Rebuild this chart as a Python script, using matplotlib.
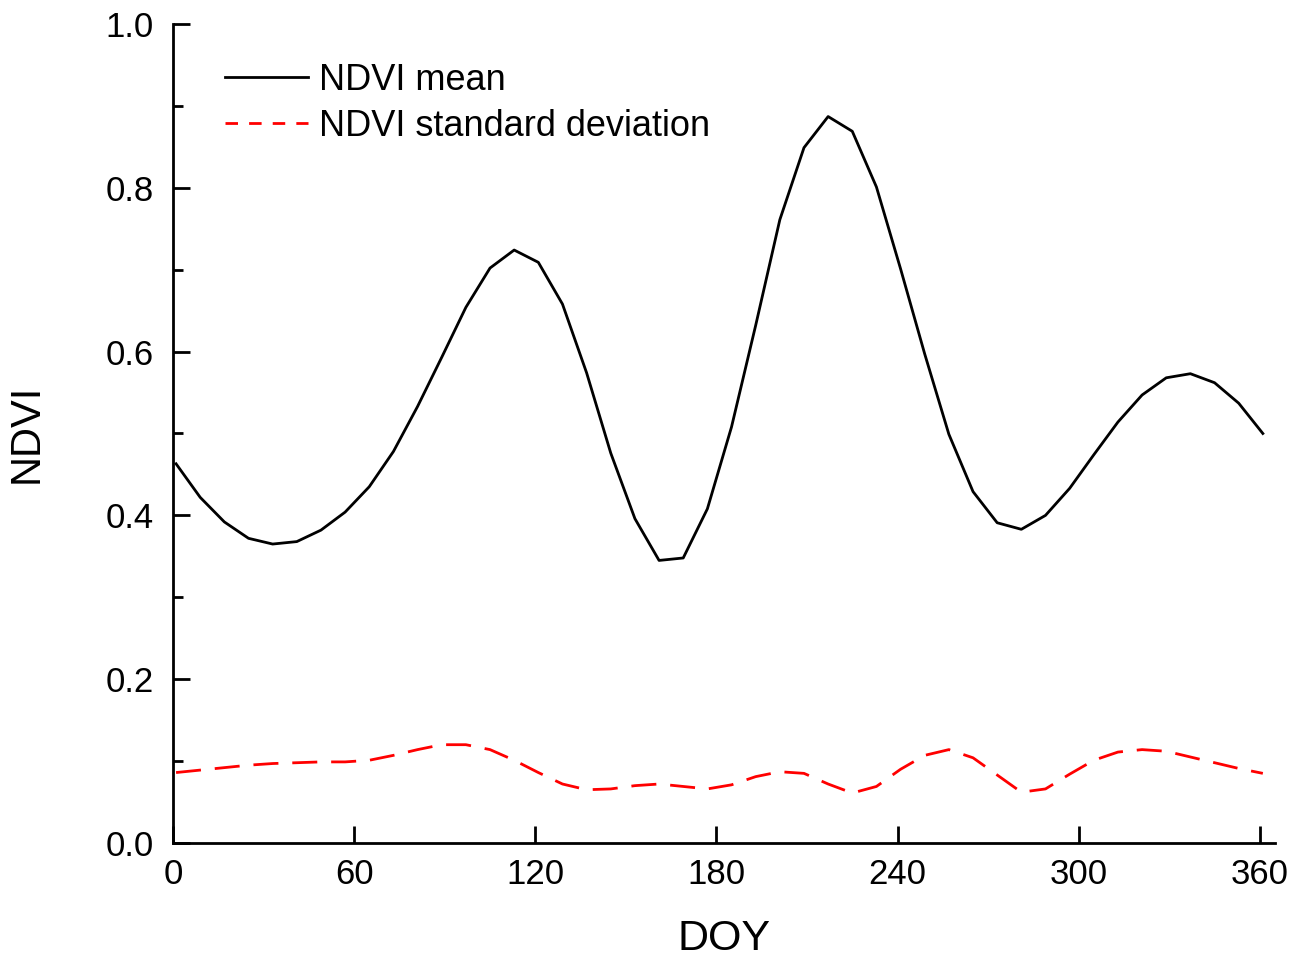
import matplotlib.pyplot as plt
from matplotlib.ticker import MultipleLocator

plt.rcParams['font.family'] = ['Liberation Sans', 'DejaVu Sans']

# day of year, 8-day composites
doy = list(range(1, 362, 8))

ndvi_mean = [0.463, 0.422, 0.392, 0.372, 0.365, 0.368, 0.382, 0.404, 0.435, 0.478,
             0.533, 0.593, 0.654, 0.702, 0.724, 0.709, 0.658, 0.574, 0.476, 0.396,
             0.345, 0.348, 0.408, 0.508, 0.632, 0.761, 0.849, 0.887, 0.869, 0.801,
             0.701, 0.597, 0.499, 0.429, 0.391, 0.383, 0.400, 0.433, 0.474, 0.514,
             0.547, 0.568, 0.573, 0.562, 0.537, 0.500]

ndvi_std = [0.086, 0.089, 0.092, 0.095, 0.097, 0.098, 0.099, 0.099, 0.101, 0.107,
            0.114, 0.120, 0.120, 0.114, 0.101, 0.086, 0.072, 0.065, 0.066, 0.070,
            0.072, 0.069, 0.066, 0.071, 0.081, 0.087, 0.085, 0.072, 0.061, 0.069,
            0.090, 0.107, 0.114, 0.104, 0.083, 0.062, 0.066, 0.084, 0.101, 0.111,
            0.114, 0.112, 0.105, 0.098, 0.091, 0.085]

fig = plt.figure(figsize=(13.04, 9.6), dpi=100)
ax = fig.add_axes([0.1327, 0.1219, 0.845, 0.8531])

ax.plot(doy, ndvi_mean, color='black', lw=2.0, label='NDVI mean')
ax.plot(doy, ndvi_std, color='red', lw=2.0, dashes=(9, 5), label='NDVI standard deviation')

ax.set_xlim(0, 365)
ax.set_ylim(0, 1.0)
ax.xaxis.set_major_locator(MultipleLocator(60))
ax.yaxis.set_major_locator(MultipleLocator(0.2))
ax.yaxis.set_minor_locator(MultipleLocator(0.1))
ax.yaxis.set_major_formatter(plt.FormatStrFormatter('%.1f'))

for s in ['top', 'right']:
    ax.spines[s].set_visible(False)
for s in ['left', 'bottom']:
    ax.spines[s].set_linewidth(2.0)

ax.tick_params(axis='both', which='major', direction='in', length=12, width=2.0,
               labelsize=25)
ax.tick_params(axis='x', which='major', pad=11)
ax.tick_params(axis='y', which='major', pad=14)
ax.tick_params(axis='y', which='minor', direction='in', length=7, width=2.0)

ax.set_xlabel('DOY', fontsize=31, labelpad=20)
ax.set_ylabel('NDVI', fontsize=30, labelpad=42)

leg = ax.legend(loc='upper left', bbox_to_anchor=(0.018, 0.992), frameon=False, fontsize=26,
                handlelength=2.3, handletextpad=0.3, labelspacing=0.3)
leg.get_lines()[1].set_dashes((4.5, 4))

fig.savefig('out.png', dpi=100)
